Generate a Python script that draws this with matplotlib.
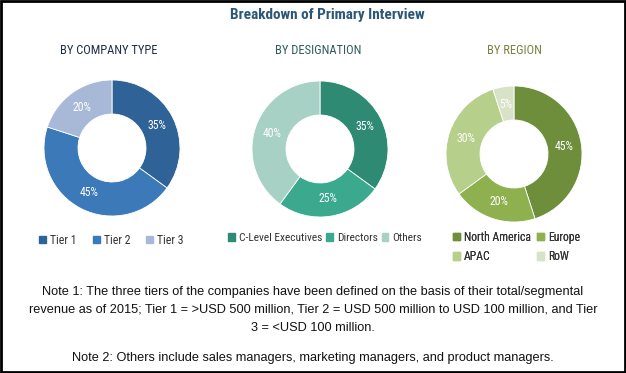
import matplotlib.pyplot as plt
from matplotlib import font_manager
from matplotlib.patches import Rectangle, Patch

# data
company_labels = ['Tier 1', 'Tier 2', 'Tier 3']
company_vals = [35, 45, 20]
design_labels = ['C-Level Executives', 'Directors', 'Others']
design_vals = [35, 25, 40]
region_labels = ['North America', 'Europe', 'APAC', 'RoW']
region_vals = [45, 20, 30, 5]

company_colors = ['#2f6296', '#3b79b9', '#a7b9d6']
design_colors = ['#2f8a74', '#3aa98d', '#a8d1c5']
region_colors = ['#6e8e3b', '#8fb04f', '#b6cf8b', '#d7e2c6']

# narrow font if there is one
narrow = 'DejaVu Sans'
for name in ['Liberation Sans Narrow', 'Roboto Condensed', 'Open Sans Condensed']:
    try:
        font_manager.findfont(name, fallback_to_default=False)
        narrow = name
        break
    except ValueError:
        pass

W, H = 626, 373
fig = plt.figure(figsize=(W / 100, H / 100), dpi=100)
ax = fig.add_axes([0, 0, 1, 1])
ax.set_xlim(0, W)
ax.set_ylim(H, 0)
ax.set_aspect('equal')
ax.axis('off')

cond = dict(family=narrow)

fig.text(327 / W, 1 - 15 / H, 'Breakdown of Primary Interview', ha='center', va='center',
         fontsize=11, fontweight='bold', color='#2b5878', **cond)

def donut(vals, colors, cx, cy, r, title, tcolor, tx):
    # y axis is inverted, so start at 270 and go "counterclock" to look clockwise from the top
    ax.pie(vals, colors=colors, center=(cx, cy), radius=r,
           startangle=270, counterclock=True,
           autopct=lambda p: '%d%%' % round(p), pctdistance=0.74,
           wedgeprops=dict(width=r * 0.5, edgecolor='white', linewidth=0.6),
           textprops=dict(color='white', fontsize=8.5, **cond))
    ax.text(tx, 50, title, ha='center', va='center', fontsize=9, color=tcolor, **cond)

donut(company_vals, company_colors, 112, 148, 68, 'BY COMPANY TYPE', '#1f2d4a', 109)
donut(design_vals, design_colors, 320, 149, 68, 'BY DESIGNATION', '#2d5c5a', 318)
donut(region_vals, region_colors, 514, 154, 68, 'BY REGION', '#7b8042', 514)
ax.set_xlim(0, W)
ax.set_ylim(H, 0)

def legend(labels, colors, x, y, ncol, colsp, size=8.5, order=None):
    handles = [Patch(color=c, label=l) for l, c in zip(labels, colors)]
    if order:
        handles = [handles[i] for i in order]
    lg = ax.legend(handles=handles, loc='center left', bbox_to_anchor=(x, y),
                   bbox_transform=ax.transData, ncol=ncol, frameon=False,
                   handlelength=0.6, handleheight=0.6, handletextpad=0.35,
                   columnspacing=colsp, labelspacing=0.55, borderpad=0,
                   prop=dict(size=size, **cond), labelcolor='#333333')
    ax.add_artist(lg)

legend(company_labels, company_colors, 33, 240, 3, 1.35)
legend(design_labels, design_colors, 222, 238, 3, 0.35, size=8.2)
legend(region_labels, region_colors, 447, 247, 2, 0.5, order=[0, 2, 1, 3])

note_kw = dict(ha='center', va='center', fontsize=9.2, family='Liberation Sans', color='#111111')
fig.text(0.5, 1 - 292 / H, 'Note 1: The three tiers of the companies have been defined on the basis of their total/segmental', **note_kw)
fig.text(0.5, 1 - 310 / H, 'revenue as of 2015; Tier 1 = >USD 500 million, Tier 2 = USD 500 million to USD 100 million, and Tier', **note_kw)
fig.text(0.5, 1 - 328 / H, '3 = <USD 100 million.', **note_kw)
fig.text(0.5, 1 - 358 / H, 'Note 2: Others include sales managers, marketing managers, and product managers.', **note_kw)

fig.patches.append(Rectangle((0.002, 0.003), 0.996, 0.994, transform=fig.transFigure,
                             fill=False, edgecolor='black', linewidth=2))

fig.savefig('out.png', dpi=100)
